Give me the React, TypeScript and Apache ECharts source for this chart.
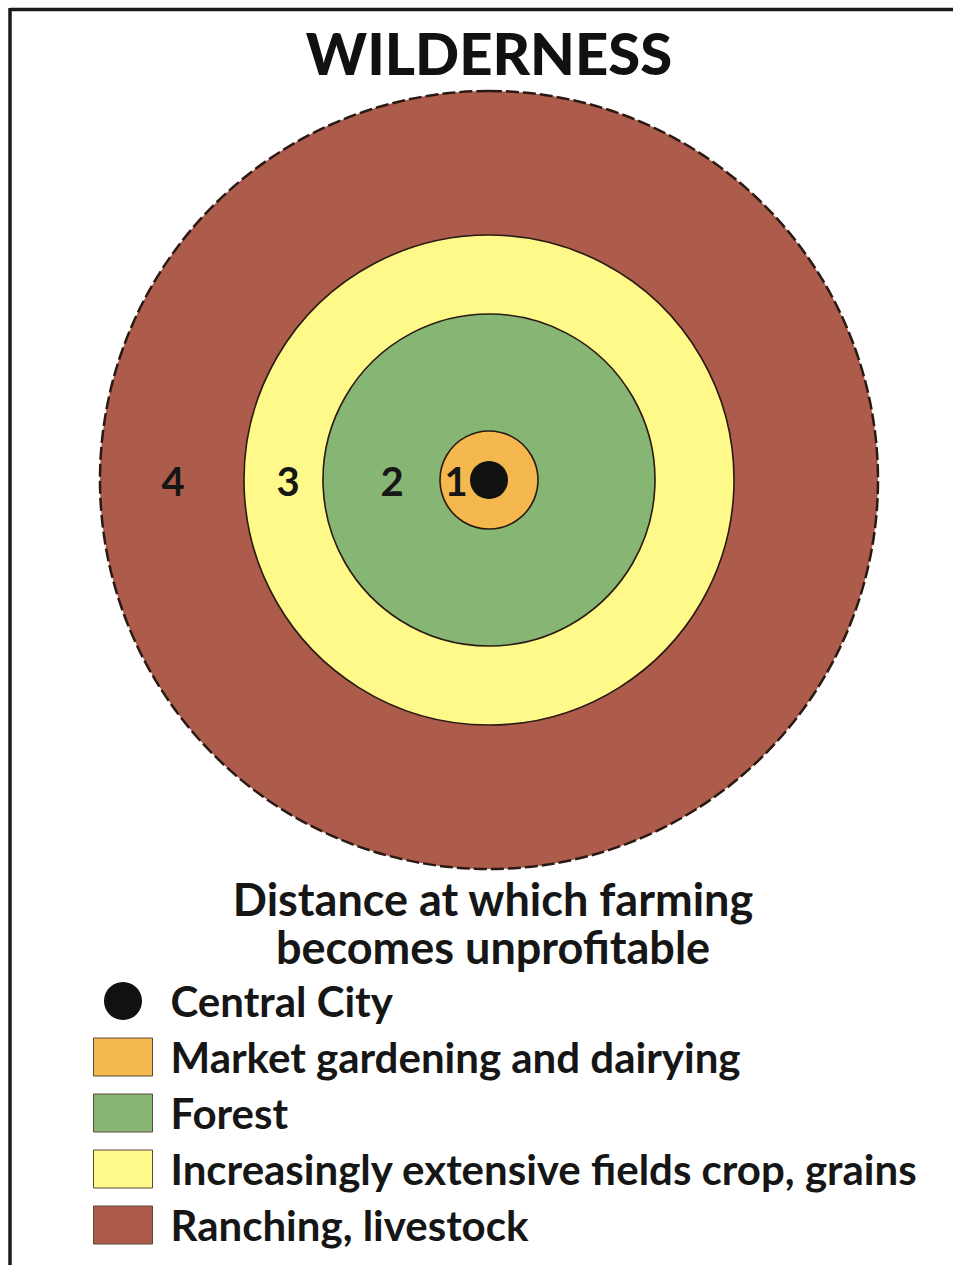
import React, { useEffect, useRef } from "react";
import * as echarts from "echarts";

// Zones of the Von Thünen model, innermost first
const zoneNames = [
  "Central City",
  "Market gardening and dairying",
  "Forest",
  "Increasingly extensive fields crop, grains",
  "Ranching, livestock",
];
const zoneRadii = [19, 49, 166, 245, 389];
const zoneColors = ["#111111", "#F5B84F", "#87B674", "#FFF98A", "#AD5B4B"];
const ringNumbers = ["1", "2", "3", "4"];
const titleText = "WILDERNESS";
const subtitleLines = ["Distance at which farming", "becomes unprofitable"];

const CX = 489;
const CY = 480;
const numberX = [456, 392, 288, 173];
const subtitleY = [899, 947];

export default function App() {
  const ref = useRef<HTMLDivElement>(null);
  useEffect(() => {
    if (!ref.current) return;
    const chart = echarts.init(ref.current, null, { renderer: "svg" });
    const n = zoneNames.length;
    const series: any[] = [];
    for (let i = n - 1; i >= 0; i--) {
      const outer = i === n - 1;
      series.push({
        type: "pie",
        name: zoneNames[i],
        center: [CX, CY],
        radius: [0, zoneRadii[i]],
        silent: true,
        label: { show: false },
        labelLine: { show: false },
        emphasis: { disabled: true },
        z: 2 + (n - i),
        itemStyle: {
          color: zoneColors[i],
          borderColor: "#2a1a14",
          borderWidth: outer ? 2.5 : i === 0 ? 0 : 1.6,
          borderType: outer ? [13, 4] : "solid",
        },
        data: [{ name: zoneNames[i], value: 1 }],
      });
    }
    const legendData = zoneNames.map((name, i) => ({
      name,
      icon: i === 0 ? "circle" : "rect",
      itemStyle: {
        color: zoneColors[i],
        borderColor: i === 0 ? zoneColors[i] : "#5a4a3a",
        borderWidth: i === 0 ? 0 : 1,
        borderType: "solid",
      },
    }));
    const textFont = {
      fontFamily: "Lato, 'Open Sans', sans-serif",
      fontWeight: "bold",
      fill: "#161616",
    };
    chart.setOption({
      animation: false,
      backgroundColor: "#ffffff",
      series,
      legend: {
        orient: "vertical",
        left: 93,
        top: 980,
        height: 280,
        padding: 0,
        itemWidth: 59,
        itemHeight: 38,
        itemGap: 14,
        selectedMode: false,
        data: legendData,
        textStyle: {
          fontFamily: "Lato, 'Open Sans', sans-serif",
          fontWeight: "bold",
          fontSize: 42,
          color: "#161616",
          padding: [0, 0, 0, 13],
        },
      },
      graphic: [
        {
          type: "line",
          shape: { x1: 10, y1: 9.5, x2: 953, y2: 9.5 },
          style: { stroke: "#1a1a1a", lineWidth: 3.5 },
          z: 100,
        },
        {
          type: "line",
          shape: { x1: 10, y1: 8, x2: 10, y2: 1265 },
          style: { stroke: "#1a1a1a", lineWidth: 3.5 },
          z: 100,
        },
        {
          type: "text",
          x: 489,
          y: 52,
          z: 100,
          style: {
            text: titleText,
            fontFamily: "Lato, 'Open Sans', sans-serif",
            fontWeight: 900,
            fontSize: 58,
            fill: "#111",
            align: "center",
            verticalAlign: "middle",
          },
        },
        ...subtitleLines.map((t, i) => ({
          type: "text",
          x: 493,
          y: subtitleY[i],
          z: 100,
          style: {
            ...textFont,
            text: t,
            fontSize: 45,
            lineHeight: 40,
            align: "center",
            verticalAlign: "middle",
          },
        })),
        ...ringNumbers.map((t, i) => ({
          type: "text",
          x: numberX[i],
          y: CY + 1,
          z: 100,
          style: {
            ...textFont,
            text: t,
            fontSize: 40,
            align: "center",
            verticalAlign: "middle",
          },
        })),
      ],
    });
    return () => chart.dispose();
  }, []);
  return (
    <div
      ref={ref}
      style={{ position: "absolute", left: 0, top: 0, width: 953, height: 1265, background: "#fff" }}
    />
  );
}
